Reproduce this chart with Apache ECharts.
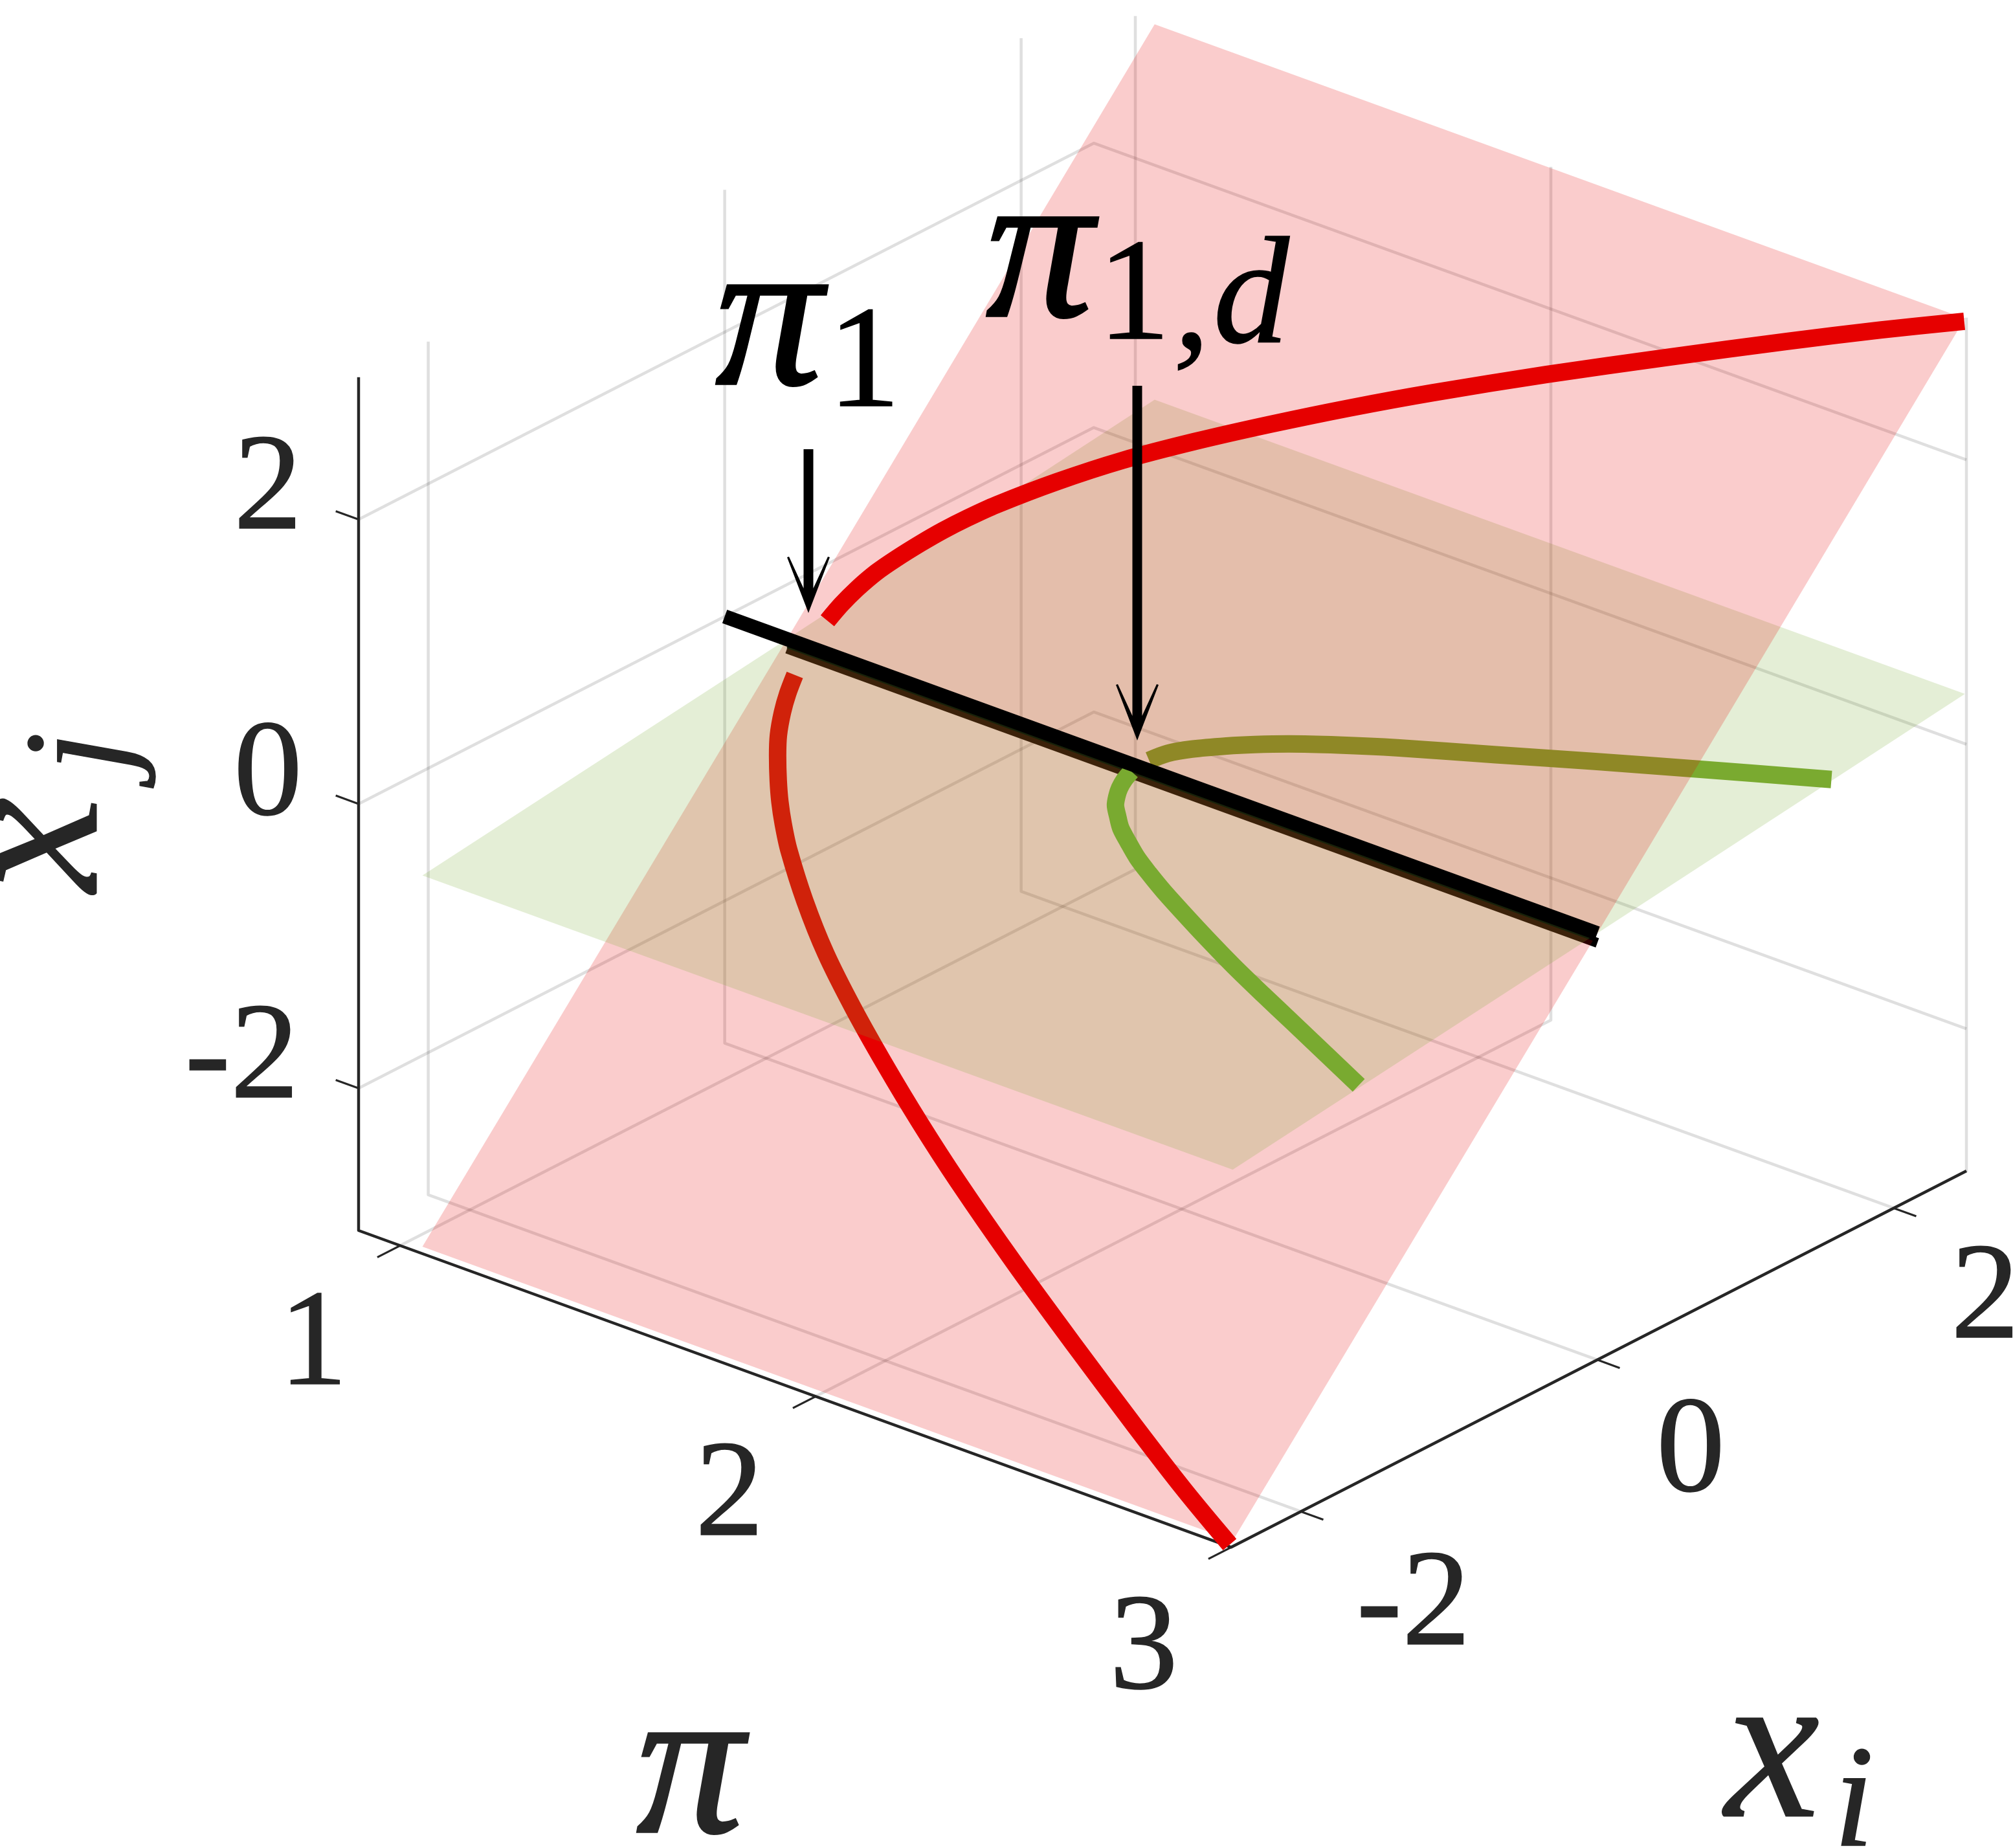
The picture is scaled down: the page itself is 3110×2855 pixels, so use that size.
<!DOCTYPE html>
<html><head><meta charset="utf-8">
<style>html,body{margin:0;padding:0;background:#fff}#c{width:3110px;height:2855px}</style>
<script src="https://cdn.jsdelivr.net/npm/echarts@6/dist/echarts.min.js"></script>
</head><body><div id="c"></div>
<script>
// ---- axis ranges and ticks
const piRange = [0.9, 3];
const xiRange = [-2.47, 2.49];
const xjRange = [-3, 3];
const piTicks = [1, 2, 3];
const xiTicks = [-2, 0, 2];
const xjTicks = [-2, 0, 2];

// ---- planes: [pi edges], [xi edges], [xj edges]
const planePiEdges = [1.05, 3];
const planeXiEdges = [-2.46, 0, 2.48];
const pinkXjEdges = [-2.96, 0, 3];
const greenXjEdges = [-0.35, 0, 0.36];

// ---- red branches (lie on the pink plane)
const redUpperPi = [1.108,1.116,1.128,1.147,1.170,1.200,1.229,1.262,1.304,1.396,1.500,1.620,1.750,1.887,2.032,2.237,2.452,2.672,2.842,2.998];
const redUpperXi = [0.11,0.18,0.25,0.33,0.40,0.48,0.55,0.62,0.70,0.85,1.0,1.15,1.30,1.45,1.60,1.80,2.00,2.20,2.35,2.481];
const redLowerPi = [1.108,1.116,1.128,1.147,1.170,1.200,1.229,1.262,1.304,1.396,1.500,1.620,1.750,1.887,2.032,2.237,2.452,2.672,2.842,3.0];
const redLowerXi = [-0.11,-0.18,-0.25,-0.33,-0.40,-0.48,-0.55,-0.62,-0.70,-0.85,-1.0,-1.15,-1.30,-1.45,-1.60,-1.80,-2.00,-2.20,-2.35,-2.48];
const redSlope = 1.2;

// ---- green branches (lie on the green plane)
const greenUpperPi = [1.897,1.909,1.936,1.982,2.022,2.073,2.152,2.249,2.418,2.587,2.757,2.994];
const greenUpperXi = [0.068,0.16,0.247,0.352,0.43,0.517,0.63,0.754,0.947,1.143,1.334,1.596];
const greenLowerPi = [1.896,1.905,1.918,1.933,1.952,1.981,2.015,2.06,2.111,2.168,2.231,2.314,2.407,2.516,2.63,2.745,2.995];
const greenLowerXi = [-0.049,-0.12,-0.19,-0.25,-0.313,-0.38,-0.454,-0.53,-0.612,-0.69,-0.771,-0.87,-0.978,-1.1,-1.22,-1.338,-1.596];
const greenSlope = 0.14;

// ---- black line of the trivial equilibrium
const blackPi = [0.9, 3];
const stripPi = [1.05, 3];
const blackXi = 0, blackXj = 0, stripXj = -0.068, edgeXj = -0.057;

// ---- labels
const piTickLabels = ['1', '2', '3'];
const xiTickLabels = ['-2', '0', '2'];
const xjTickLabels = ['2', '0', '-2'];

// ---- view projection: data (pi, xi, xj) into the hidden pixel scales
const view = {ox:554, oy:1901, px:642, py:233, ix:229, iy:-117.2, zy:-219.7};
function project(p){
  const a = p[0]-piRange[0], b = p[1]-xiRange[0], c = p[2]-xjRange[0];
  return [view.ox + a*view.px + b*view.ix, view.oy + a*view.py + b*view.iy + c*view.zy];
}
const GRID = 'rgba(38,38,38,0.15)', AX = '#262626';
const RED = 'rgb(230,0,0)', GREEN = 'rgb(122,170,48)';
const PINKA = 'rgba(230,0,0,0.2)', GREENA = 'rgba(122,170,48,0.2)';
const CURVE_W = 27;

const series = [];
function line(pts, color, width, z, smooth){
  series.push({type:'line', data:pts.map(project), showSymbol:false, symbol:'none', silent:true, animation:false,
    clip:false, smooth:smooth?0.3:false, z:z, lineStyle:{color:color, width:width, cap:'butt', join:'round'}});
}
function plane(pts, fill, z){
  series.push({type:'custom', coordinateSystem:'cartesian2d', data:[0], silent:true, animation:false, clip:false, z:z,
    renderItem:(params, api)=>({type:'polygon', shape:{points:pts.map(p=>api.coord(project(p)))}, style:{fill:fill}})});
}
const [pa,pb] = piRange, [xa,xb] = xiRange, [za,zb] = xjRange;

// grid
piTicks.forEach(p=>line([[p,xa,za],[p,xb,za],[p,xb,zb]], GRID, 4.5, 1));
xiTicks.forEach(x=>line([[pb,x,za],[pa,x,za],[pa,x,zb]], GRID, 4.5, 1));
xjTicks.forEach(h=>line([[pa,xa,h],[pa,xb,h],[pb,xb,h]], GRID, 4.5, 1));

// axes + ticks
line([[pa,xa,zb],[pa,xa,za],[pb,xa,za],[pb,xb,za]], AX, 4.5, 2);
piTicks.forEach(p=>line([[p,xa,za],[p,xa-0.154,za]], AX, 3.2, 2));
xiTicks.forEach(x=>line([[pb,x,za],[pb+0.054,x,za]], AX, 3.2, 2));
xjTicks.forEach(h=>line([[pa,xa,h],[pa-0.055,xa,h]], AX, 3.2, 2));

// layered planes and curves
const redU = redUpperPi.map((p,i)=>[p,redUpperXi[i],redUpperXi[i]*redSlope]);
const redL = redLowerPi.map((p,i)=>[p,redLowerXi[i],redLowerXi[i]*redSlope]);
const grnU = greenUpperPi.map((p,i)=>[p,greenUpperXi[i],greenUpperXi[i]*greenSlope]);
const grnL = greenLowerPi.map((p,i)=>[p,greenLowerXi[i],greenLowerXi[i]*greenSlope]);
const [p0,p1] = planePiEdges;
function quad(xi0,xi1,z0,z1){return [[p0,xi0,z0],[p1,xi0,z0],[p1,xi1,z1],[p0,xi1,z1]];}

line(stripPi.map(p=>[p,blackXi,stripXj]), '#000', 15, 3);
plane(quad(planeXiEdges[0],planeXiEdges[1],pinkXjEdges[0],pinkXjEdges[1]), PINKA, 4);
line(stripPi.map(p=>[p,blackXi,edgeXj]), '#000', 3, 5);
line(redL, RED, CURVE_W, 5, true);
line(grnL, GREEN, CURVE_W, 5, true);
plane(quad(planeXiEdges[0],planeXiEdges[1],greenXjEdges[0],greenXjEdges[1]), GREENA, 6);
plane(quad(planeXiEdges[1],planeXiEdges[2],greenXjEdges[1],greenXjEdges[2]), GREENA, 7);
line(redU, RED, CURVE_W, 8, true);
line(grnU, GREEN, CURVE_W, 8, true);
plane(quad(planeXiEdges[1],planeXiEdges[2],pinkXjEdges[1],pinkXjEdges[2]), PINKA, 9);
line(blackPi.map(p=>[p,blackXi,blackXj]), '#000', 22, 10);

// text + arrows
const SERIF = '"Liberation Serif","Times New Roman",serif';
function txt(t,x,y,size,opt){
  opt = opt||{};
  const c = opt.color||AX;
  return {type:'text', z:100, x:x, y:y, rotation:opt.rot||0, silent:true,
    style:{text:t, fill:c, stroke:c, lineWidth:opt.bold||1.5, align:opt.align||'center', verticalAlign:'middle',
      font:(opt.italic?'italic ':'')+size+'px '+SERIF}};
}
function arrow(cx, top, tip){
  const s=7.5;
  return {type:'polygon', z:100, silent:true, style:{fill:'#000'}, shape:{points:[
    [cx,tip],[cx+3,tip-8],[cx+33,tip-86],[cx+30,tip-87],[cx+s,tip-38],[cx+s,top],[cx-s,top],[cx-s,tip-38],[cx-30,tip-87],[cx-33,tip-86],[cx-3,tip-8]]}};
}
const NUM=212, BIG=330, SUB=225;
const graphics = [
  txt(xjTickLabels[0],414,760,NUM), txt(xjTickLabels[1],414,1202,NUM), txt(xjTickLabels[2],462,1639,NUM,{align:'right'}),
  txt(piTickLabels[0],484,2082,NUM), txt(piTickLabels[1],1127,2315,NUM), txt(piTickLabels[2],1767,2552,NUM),
  txt(xiTickLabels[0],2272,2484,NUM,{align:'right'}), txt(xiTickLabels[1],2612,2247,NUM), txt(xiTickLabels[2],3067,2010,NUM),
  txt('\u03c0',1066,2743,BIG,{italic:true,bold:4}),
  txt('x',2738,2719,BIG,{italic:true}), txt('i',2864,2792,SUB,{italic:true}),
  txt('x',62,1305,BIG,{italic:true,rot:Math.PI/2}), txt('j',133,1162,SUB,{italic:true,rot:Math.PI/2}),
  txt('\u03c0',1188,506,BIG,{italic:true,color:'#000',bold:4}), txt('1',1335,568,SUB,{color:'#000'}),
  txt('\u03c0',1606,401,BIG,{italic:true,color:'#000',bold:4}), txt('1',1752,464,SUB,{color:'#000'}),
  txt(',',1841,478,SUB,{italic:true,color:'#000'}), txt('d',1933,467,SUB+10,{italic:true,color:'#000'}),
  arrow(1249,694,947), arrow(1757,596,1144)
];

const chart = echarts.init(document.getElementById('c'), null, {renderer:'canvas'});
chart.setOption({
  animation:false, backgroundColor:'#fff',
  grid:{left:0,right:0,top:0,bottom:0,containLabel:false},
  xAxis:{type:'value',min:0,max:3110,show:false},
  yAxis:{type:'value',min:0,max:2855,inverse:true,show:false},
  tooltip:{show:false},
  series:series,
  graphic:{elements:graphics}
});
</script></body></html>
